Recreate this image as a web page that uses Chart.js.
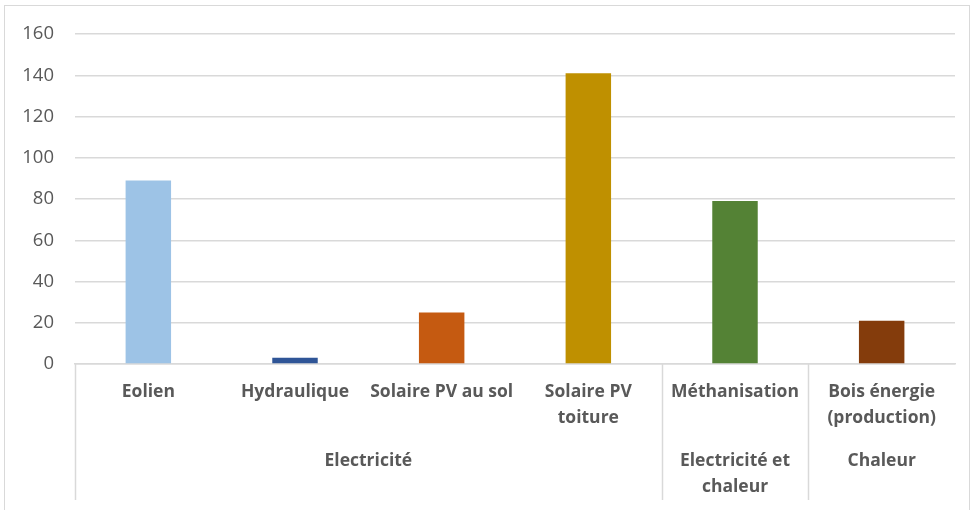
<!DOCTYPE html>
<html>
<head>
<meta charset="utf-8">
<script src="https://cdn.jsdelivr.net/npm/chart.js@4"></script>
<style>
  html, body { margin: 0; padding: 0; background: #fff; }
  .wrap { position: relative; width: 976px; height: 510px; }
  .frame { position: absolute; left: 4px; top: 5px; width: 966px; height: 510px; border: 1px solid #d9d9d9; box-sizing: border-box; pointer-events: none; }
</style>
</head>
<body>
<div class="wrap">
  <canvas id="chart" width="976" height="510"></canvas>
  <div class="frame"></div>
</div>
<script>
// categories (multi-line labels)
const categories = [
  ['Eolien'],
  ['Hydraulique'],
  ['Solaire PV au sol'],
  ['Solaire PV', 'toiture'],
  ['Méthanisation'],
  ['Bois énergie', '(production)']
];
const values = [89, 3, 25, 141, 79, 21];
const barColors = ['#9dc3e6', '#2f5597', '#c55a11', '#bf9000', '#548235', '#843c0c'];

// second level of the category axis: label lines, first and last category index
const groupLabels = [['Electricité'], ['Electricité et', 'chaleur'], ['Chaleur']];
const groupStart = [0, 4, 5];
const groupEnd = [3, 4, 5];

const yMin = 0;
const yMax = 160;
const yStep = 20;

const textColor = '#595959';
const lineColor = '#d9d9d9';
const fontFamily = '"Open Sans", Lato, sans-serif';

// draws group labels and separator lines under the category axis
const groupAxisPlugin = {
  id: 'groupAxis',
  afterDraw(chart) {
    const ctx = chart.ctx;
    const x = chart.scales.x;
    const area = chart.chartArea;
    const half = (x.getPixelForValue(1) - x.getPixelForValue(0)) / 2;
    const bottom = 500;

    ctx.save();
    ctx.strokeStyle = lineColor;
    ctx.lineWidth = 1.5;
    ctx.beginPath();
    groupStart.forEach(i => {
      const px = Math.round(x.getPixelForValue(i) - half) + 0.5;
      ctx.moveTo(px, area.bottom);
      ctx.lineTo(px, bottom);
    });
    ctx.stroke();

    ctx.fillStyle = textColor;
    ctx.font = 'bold 17.5px ' + fontFamily;
    ctx.textAlign = 'center';
    ctx.textBaseline = 'middle';
    groupLabels.forEach((lines, g) => {
      const cx = (x.getPixelForValue(groupStart[g]) + x.getPixelForValue(groupEnd[g])) / 2;
      lines.forEach((t, k) => {
        ctx.fillText(t, cx, 461 + k * 26);
      });
    });
    ctx.restore();
  }
};

new Chart(document.getElementById('chart'), {
  type: 'bar',
  data: {
    labels: categories,
    datasets: [{
      data: values,
      backgroundColor: barColors,
      borderWidth: 0,
      barPercentage: 0.31,
      categoryPercentage: 1
    }]
  },
  options: {
    responsive: false,
    animation: false,
    layout: {
      padding: { left: 0, right: 21, top: 34, bottom: 0 }
    },
    plugins: {
      legend: { display: false },
      tooltip: { enabled: false }
    },
    scales: {
      x: {
        grid: { display: false, drawTicks: false },
        border: { display: true, color: lineColor, width: 1.5 },
        ticks: {
          color: textColor,
          font: { family: fontFamily, size: 17.5, weight: 'bold', lineHeight: 1.49 },
          maxRotation: 0,
          autoSkip: false,
          padding: 15
        },
        afterFit: s => { s.height = 146; }
      },
      y: {
        min: yMin,
        max: yMax,
        grid: { color: lineColor, lineWidth: 1.5, drawTicks: false },
        border: { display: false },
        ticks: {
          stepSize: yStep,
          color: textColor,
          font: { family: fontFamily, size: 18.5 },
          padding: 21
        },
        afterFit: s => { s.width = 75; }
      }
    }
  },
  plugins: [groupAxisPlugin]
});
</script>
</body>
</html>
